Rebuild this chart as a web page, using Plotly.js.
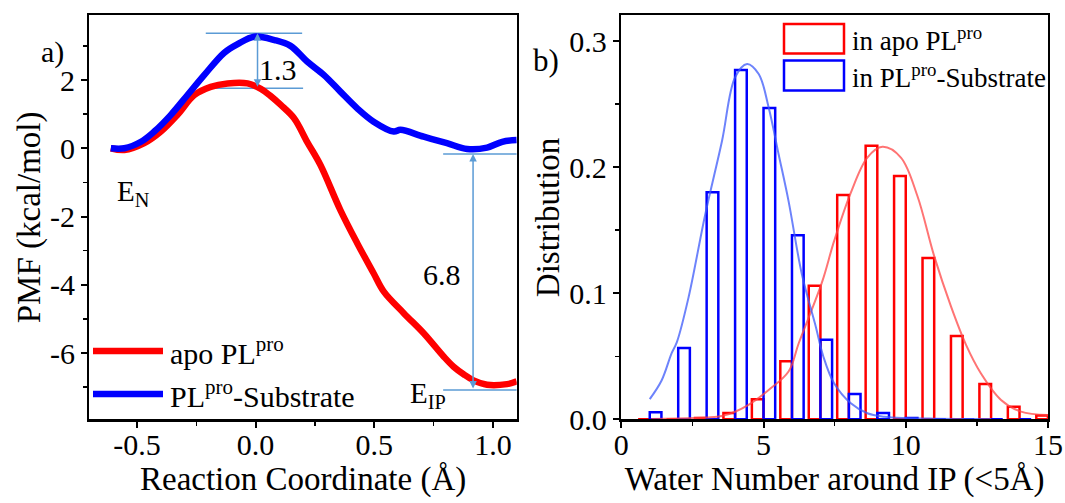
<!DOCTYPE html>
<html>
<head>
<meta charset="utf-8">
<script src="https://cdn.plot.ly/plotly-3.0.1.min.js"></script>
<style>html,body{margin:0;padding:0;background:#fff;}#chart{width:1065px;height:503px;}</style>
</head>
<body>
<div id="chart"></div>
<script>
// ---------- Panel a: PMF along reaction coordinate ----------
const rcApo = [-0.61, -0.553, -0.469, -0.399, -0.329, -0.258, -0.189, -0.118, -0.034, 0.022, 0.06, 0.106, 0.162, 0.217, 0.273, 0.357, 0.428, 0.497, 0.54, 0.624, 0.708, 0.792, 0.834, 0.876, 0.918, 0.975, 1.059, 1.1];
const pmfApo = [0.0, -0.05, 0.15, 0.49, 0.98, 1.56, 1.80, 1.90, 1.90, 1.74, 1.55, 1.27, 0.88, 0.19, -0.49, -1.81, -2.78, -3.66, -4.20, -4.83, -5.42, -6.10, -6.40, -6.62, -6.80, -6.93, -6.91, -6.83];
const rcSub = [-0.61, -0.553, -0.483, -0.427, -0.357, -0.287, -0.216, -0.132, -0.076, -0.006, 0.08, 0.147, 0.217, 0.287, 0.357, 0.428, 0.497, 0.582, 0.61, 0.708, 0.806, 0.891, 0.975, 1.039, 1.1];
const pmfSub = [0.0, 0.0, 0.19, 0.49, 0.98, 1.56, 2.15, 2.80, 3.05, 3.27, 3.17, 3.00, 2.54, 2.15, 1.66, 1.17, 0.78, 0.49, 0.54, 0.34, 0.15, -0.02, 0.02, 0.19, 0.24];
const rcTicks = [-0.5, 0.0, 0.5, 1.0];
const rcTickText = ['-0.5', '0.0', '0.5', '1.0'];
const pmfTicks = [-6, -4, -2, 0, 2];
const pmfTickText = ['-6', '-4', '-2', '0', '2'];

// ---------- Panel b: water number distribution ----------
const waterNumber = [1, 2, 3, 4, 5, 6, 7, 8, 9, 10, 11, 12, 13, 14, 15];
const distApo = [0, 0, 0.001, 0.005, 0.016, 0.046, 0.106, 0.178, 0.217, 0.193, 0.128, 0.066, 0.028, 0.010, 0.003];
const distSub = [0.0056, 0.0565, 0.180, 0.277, 0.247, 0.146, 0.063, 0.020, 0.005, 0.001, 0, 0, 0, 0, 0];
const fitApoX = [1.05, 2.0, 3.0, 3.54, 4.0, 4.47, 5.18, 5.88, 6.24, 7.06, 7.48, 8.07, 8.65, 9.18, 9.83, 10.41, 11.0, 11.59, 12.12, 12.64, 13.35, 14.05, 15.0];
const fitApoY = [0.0003, 0.0006, 0.0015, 0.0026, 0.006, 0.0114, 0.0233, 0.0379, 0.0605, 0.109, 0.1413, 0.1798, 0.2076, 0.2161, 0.2076, 0.1771, 0.1294, 0.0896, 0.0591, 0.0366, 0.0154, 0.0061, 0.0034];
const fitSubX = [1.0, 1.42, 1.77, 1.95, 2.36, 2.95, 3.54, 4.0, 4.42, 4.83, 5.18, 5.53, 5.88, 6.35, 6.82, 7.1, 7.48, 8.07, 8.65, 9.24, 10.0, 11.0, 12.0, 13.0];
const fitSubY = [0.016, 0.031, 0.0525, 0.061, 0.0963, 0.1625, 0.2208, 0.2713, 0.2819, 0.2739, 0.2474, 0.2103, 0.1731, 0.1148, 0.075, 0.05, 0.0286, 0.0127, 0.0048, 0.0021, 0.001, 0.0005, 0.0003, 0.0002];

const RED = '#ff0000', BLUE = '#0000ff', ANN = '#5b9bd5';
const W = 1065, H = 503;
const px = v => v / W;
const py = v => 1 - v / H;
const FONT = '"Liberation Serif", "Times New Roman", Times, serif';

const traces = [
  {x: rcApo, y: pmfApo, type: 'scatter', mode: 'lines', name: 'apo PL<sup>pro</sup>',
   line: {color: RED, width: 6.5, shape: 'spline', smoothing: 1}, xaxis: 'x', yaxis: 'y'},
  {x: rcSub, y: pmfSub, type: 'scatter', mode: 'lines', name: 'PL<sup>pro</sup>-Substrate',
   line: {color: BLUE, width: 6.5, shape: 'spline', smoothing: 1}, xaxis: 'x', yaxis: 'y'},
  {x: waterNumber, y: distApo, type: 'bar', name: 'in apo PL<sup>pro</sup>',
   marker: {color: 'rgba(0,0,0,0)', line: {color: RED, width: 2.5}}, xaxis: 'x2', yaxis: 'y2'},
  {x: waterNumber, y: distSub, type: 'bar', name: 'in PL<sup>pro</sup>-Substrate',
   marker: {color: 'rgba(0,0,0,0)', line: {color: BLUE, width: 2.5}}, xaxis: 'x2', yaxis: 'y2'},
  {x: fitApoX, y: fitApoY, type: 'scatter', mode: 'lines', showlegend: false,
   line: {color: 'rgba(255,70,70,0.75)', width: 2, shape: 'spline'}, xaxis: 'x2', yaxis: 'y2'},
  {x: fitSubX, y: fitSubY, type: 'scatter', mode: 'lines', showlegend: false,
   line: {color: 'rgba(60,90,250,0.75)', width: 2, shape: 'spline'}, xaxis: 'x2', yaxis: 'y2'}
];

const axisCommon = {
  showline: true, mirror: true, linecolor: 'black', linewidth: 2.5,
  ticks: 'outside', ticklen: 6, tickwidth: 2, tickcolor: 'black',
  showgrid: false, zeroline: false, automargin: false,
  tickfont: {family: FONT, size: 30, color: 'black'}
};

const yDom = [0.1664, 0.9692];

const layout = {
  width: W, height: H,
  margin: {l: 0, r: 0, t: 0, b: 0},
  paper_bgcolor: 'white', plot_bgcolor: 'white',
  font: {family: FONT, size: 30, color: 'black'},
  showlegend: false,
  barmode: 'group', bargap: 0.18, bargroupgap: 0,
  xaxis: Object.assign({}, axisCommon, {
    domain: [0.0840, 0.4852], range: [-0.7, 1.1], anchor: 'y',
    tickmode: 'array', tickvals: rcTicks, ticktext: rcTickText, ticklabelstandoff: -9,
    minor: {tickmode: 'linear', tick0: 0, dtick: 0.25, ticks: 'outside', ticklen: 4, tickwidth: 1.5, tickcolor: 'black'},
    title: {text: 'Reaction Coordinate (Å)', font: {family: FONT, size: 33}, standoff: 5}
  }),
  yaxis: Object.assign({}, axisCommon, {
    domain: yDom, range: [-7.94, 3.89], anchor: 'x',
    tickmode: 'array', tickvals: pmfTicks, ticktext: pmfTickText,
    minor: {tickmode: 'linear', tick0: 0, dtick: 1, ticks: 'outside', ticklen: 4, tickwidth: 1.5, tickcolor: 'black'},
    title: {text: 'PMF (kcal/mol)', font: {family: FONT, size: 33}, standoff: 0}
  }),
  xaxis2: Object.assign({}, axisCommon, {
    domain: [0.5834, 0.9840], range: [0, 15], anchor: 'y2',
    tick0: 0, dtick: 5, ticklabelstandoff: -9,
    minor: {tick0: 0, dtick: 2.5, ticks: 'outside', ticklen: 4, tickwidth: 1.5, tickcolor: 'black'},
    title: {text: 'Water Number around IP (<5Å)', font: {family: FONT, size: 33}, standoff: 5}
  }),
  yaxis2: Object.assign({}, axisCommon, {
    domain: yDom, range: [0, 0.3203], anchor: 'x2',
    tick0: 0, dtick: 0.1, tickformat: '.1f',
    minor: {tick0: 0, dtick: 0.05, ticks: 'outside', ticklen: 4, tickwidth: 1.5, tickcolor: 'black'},
    title: {text: 'Distribution', font: {family: FONT, size: 33}, standoff: 0}
  }),
  shapes: [
    {type: 'line', xref: 'x', yref: 'y', x0: -0.21, x1: 0.196, y0: 3.37, y1: 3.37, line: {color: ANN, width: 1.5}, layer: 'below'},
    {type: 'line', xref: 'x', yref: 'y', x0: -0.21, x1: 0.2, y0: 1.76, y1: 1.76, line: {color: ANN, width: 1.5}, layer: 'below'},
    {type: 'line', xref: 'x', yref: 'y', x0: 0.79, x1: 1.1, y0: -0.17, y1: -0.17, line: {color: ANN, width: 1.5}, layer: 'below'},
    {type: 'line', xref: 'x', yref: 'y', x0: 0.79, x1: 1.1, y0: -7.08, y1: -7.08, line: {color: ANN, width: 1.5}, layer: 'below'},
    {type: 'line', xref: 'paper', yref: 'paper', x0: px(93), x1: px(163), y0: py(351), y1: py(351), line: {color: RED, width: 6.5}},
    {type: 'line', xref: 'paper', yref: 'paper', x0: px(93), x1: px(163), y0: py(394), y1: py(394), line: {color: BLUE, width: 6.5}},
    {type: 'rect', xref: 'paper', yref: 'paper', x0: px(784), x1: px(844), y0: py(53.5), y1: py(24), line: {color: RED, width: 2.5}},
    {type: 'rect', xref: 'paper', yref: 'paper', x0: px(784), x1: px(844), y0: py(90.5), y1: py(60.5), line: {color: BLUE, width: 2.5}}
  ],
  annotations: [
    {xref: 'x', yref: 'y', x: 0.008, y: 3.37, ax: 0.008, ay: 1.76, axref: 'x', ayref: 'y', text: '',
     showarrow: true, arrowside: 'end+start', arrowhead: 2, arrowsize: 1, arrowwidth: 1.5, arrowcolor: ANN, standoff: 0, startstandoff: 0},
    {xref: 'x', yref: 'y', x: 0.916, y: -0.17, ax: 0.916, ay: -7.08, axref: 'x', ayref: 'y', text: '',
     showarrow: true, arrowside: 'end+start', arrowhead: 2, arrowsize: 1, arrowwidth: 1.5, arrowcolor: ANN, standoff: 0, startstandoff: 0},
    {xref: 'x', yref: 'y', x: 0.095, y: 2.32, text: '1.3', showarrow: false, font: {size: 30}},
    {xref: 'x', yref: 'y', x: 0.785, y: -3.71, text: '6.8', showarrow: false, font: {size: 30}},
    {xref: 'x', yref: 'y', x: -0.516, y: -1.31, text: 'E<sub>N</sub>', showarrow: false, font: {size: 29}},
    {xref: 'x', yref: 'y', x: 0.726, y: -7.22, text: 'E<sub>IP</sub>', showarrow: false, font: {size: 29}},
    {xref: 'paper', yref: 'paper', x: px(40), y: py(34), text: 'a)', showarrow: false, font: {size: 30}, borderpad: 0},
    {xref: 'paper', yref: 'paper', x: px(560), xanchor: 'right', y: py(42), text: 'b)', showarrow: false, font: {size: 31}, borderpad: 0},
    {xref: 'paper', yref: 'paper', x: px(168), xanchor: 'left', y: py(351), yanchor: 'middle', text: 'apo PL<sup>pro</sup>', showarrow: false, font: {size: 30}},
    {xref: 'paper', yref: 'paper', x: px(168), xanchor: 'left', y: py(394), yanchor: 'middle', text: 'PL<sup>pro</sup>-Substrate', showarrow: false, font: {size: 30}},
    {xref: 'paper', yref: 'paper', x: px(850), xanchor: 'left', y: py(39), yanchor: 'middle', text: 'in apo PL<sup>pro</sup>', showarrow: false, font: {size: 27}},
    {xref: 'paper', yref: 'paper', x: px(850), xanchor: 'left', y: py(76), yanchor: 'middle', text: 'in PL<sup>pro</sup>-Substrate', showarrow: false, font: {size: 27}}
  ]
};

Plotly.newPlot('chart', traces, layout, {staticPlot: true, displayModeBar: false});
</script>
</body>
</html>
